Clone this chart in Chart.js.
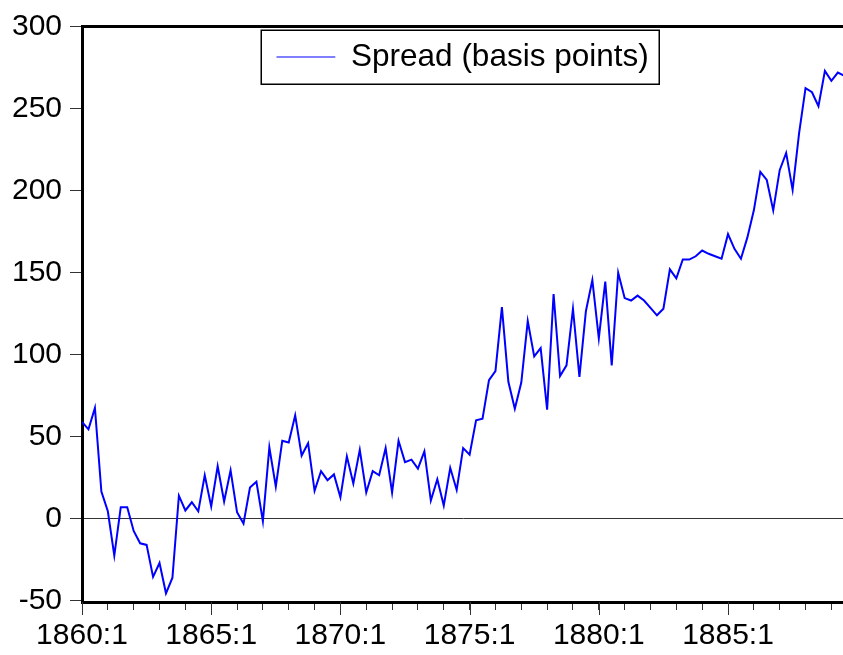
<!DOCTYPE html>
<html>
<head>
<meta charset="utf-8">
<script src="https://cdn.jsdelivr.net/npm/chart.js@4"></script>
<style>
html,body{margin:0;padding:0;background:#fff;}
#wrap{width:843px;height:655px;}
</style>
</head>
<body>
<div id="wrap"><canvas id="c" width="843" height="655"></canvas></div>
<script>
// ---- data (quarterly, starting 1860:1) ----
const startYear = 1860;
const seriesName = 'Spread (basis points)';
const spread = [
  59, 54.5, 67.5, 16.5, 4.5, -22.5, 7, 7, -7.5, -15,
  -16, -35.5, -27, -45.5, -36, 14, 5, 10, 4.5, 26.5,
  7.5, 32, 10.5, 29.5, 4, -3, 19, 22.5, -1.5, 43.5,
  19.5, 47.5, 46.5, 63, 38.5, 46, 17, 29, 23.5, 27,
  13, 38, 21.5, 42, 16, 29, 26.5, 43, 16, 47.5,
  34.5, 36, 30.5, 41, 11, 24, 8, 31, 17.5, 43,
  39, 60, 61, 84.5, 90, 129, 83.5, 67, 83, 120.5,
  99, 104, 66.5, 137, 87, 93.5, 128, 86.5, 126.5, 145.5,
  110, 144.5, 93.5, 150, 134.5, 133, 136, 133, 128.5, 124,
  128, 152, 146.5, 158, 158, 160, 163.5, 161.5, 160, 158.5,
  173.5, 164.5, 158.5, 171.5, 188, 211.5, 206.5, 188, 212.5, 223,
  200.5, 235, 262.5, 260, 251.5, 273, 267, 272, 270
];
const quarters = spread.map((_, i) => (startYear + Math.floor(i / 4)) + ':' + (i % 4 + 1));
const xTickLabels = ['1860:1', '1865:1', '1870:1', '1875:1', '1880:1', '1885:1'];
const yTickValues = [-50, 0, 50, 100, 150, 200, 250, 300];

const FONT = "'Liberation Sans', Arial, Helvetica, sans-serif";
Chart.defaults.font.family = FONT;
Chart.defaults.color = '#000';

const majorTicks = {
  id: 'majorTicks',
  afterDraw(chart) {
    const xs = chart.scales.x;
    const ctx = chart.ctx;
    const b = chart.chartArea.bottom;
    ctx.save();
    ctx.strokeStyle = '#333';
    ctx.lineWidth = 1;
    xTickLabels.forEach(l => {
      const i = quarters.indexOf(l);
      if (i < 0) return;
      const px = Math.round(xs.getPixelForValue(i)) + 0.5;
      ctx.beginPath();
      ctx.moveTo(px, b);
      ctx.lineTo(px, b + 13);
      ctx.stroke();
    });
    ctx.restore();
  }
};

const legendPlace = {
  id: 'legendPlace',
  afterLayout(chart) {
    const lg = chart.legend;
    if (!lg || !lg.legendHitBoxes || !lg.legendHitBoxes.length) return;
    const ca = chart.chartArea;
    const w = lg.legendHitBoxes[0].width;
    const cx = (ca.left + ca.right) / 2;
    lg.left = cx - w / 2;
    lg.right = lg.left + w;
    lg.top = 41.25;
    lg.bottom = lg.top + 32;
  },
  afterDraw(chart) {
    const lg = chart.legend;
    if (!lg || !lg.legendHitBoxes || !lg.legendHitBoxes.length) return;
    const w = lg.legendHitBoxes[0].width;
    const ctx = chart.ctx;
    const cy = lg.top + 15.75;
    ctx.save();
    ctx.strokeStyle = '#000';
    ctx.lineWidth = 1.5;
    ctx.strokeRect(Math.round(lg.left - 15) + 0.25, Math.round(cy - 27.5) + 0.25, Math.round(w + 26), 54);
    ctx.restore();
  }
};

new Chart(document.getElementById('c'), {
  type: 'line',
  data: {
    datasets: [{
      label: seriesName,
      data: spread.map((v, i) => ({x: i, y: v})),
      borderColor: '#0000FF',
      backgroundColor: '#0000FF',
      borderWidth: 2,
      pointRadius: 0,
      tension: 0,
      fill: false
    }]
  },
  options: {
    responsive: false,
    animation: false,
    devicePixelRatio: 1,
    layout: {padding: 0},
    plugins: {
      tooltip: {enabled: false},
      legend: {
        display: true,
        position: 'chartArea',
        align: 'start',
        labels: {
          usePointStyle: true,
          pointStyle: 'line',
          pointStyleWidth: 59,
          padding: 0,
          color: '#000',
          font: {size: 31.5, family: FONT},
          generateLabels(chart) {
            const items = Chart.defaults.plugins.legend.labels.generateLabels(chart);
            items.forEach(it => { it.lineWidth = 1.2; it.strokeStyle = '#0000FF'; it.pointStyle = 'line'; });
            return items;
          }
        }
      }
    },
    scales: {
      x: {
        type: 'linear',
        position: 'bottom',
        min: 0,
        max: 117.8,
        afterFit(s) { s.height = 53; },
        border: {display: true, color: '#000', width: 3},
        grid: {drawOnChartArea: false, drawTicks: true, tickLength: 8, tickColor: '#333', tickWidth: 1},
        ticks: {
          stepSize: 4,
          autoSkip: false,
          maxRotation: 0,
          minRotation: 0,
          includeBounds: false,
          maxTicksLimit: 200,
          padding: 8,
          color: '#000',
          font: {size: 30},
          callback(value) {
            const q = quarters[value];
            return xTickLabels.includes(q) ? q : '';
          }
        }
      },
      xTop: {
        type: 'linear',
        position: 'top',
        afterFit(s) { s.height = 25; },
        border: {display: true, color: '#000', width: 3},
        grid: {display: true, drawOnChartArea: false, drawTicks: false},
        ticks: {display: false}
      },
      y: {
        type: 'linear',
        position: 'left',
        min: -50.8,
        max: 300.4,
        afterFit(s) { s.width = 82; },
        afterBuildTicks(s) { s.ticks = yTickValues.map(v => ({value: v})); },
        border: {display: true, color: '#000', width: 3},
        grid: {
          drawOnChartArea: true,
          drawTicks: true,
          tickLength: 12,
          tickColor: '#333',
          tickWidth: 1,
          lineWidth: 1,
          color(ctx) { return (ctx.tick && ctx.tick.value === 0) ? '#333' : 'rgba(0,0,0,0)'; }
        },
        ticks: {
          padding: 8,
          color: '#000',
          font: {size: 30},
          callback(v) { return String(v); }
        }
      }
    }
  },
  plugins: [legendPlace, majorTicks]
});
</script>
</body>
</html>
